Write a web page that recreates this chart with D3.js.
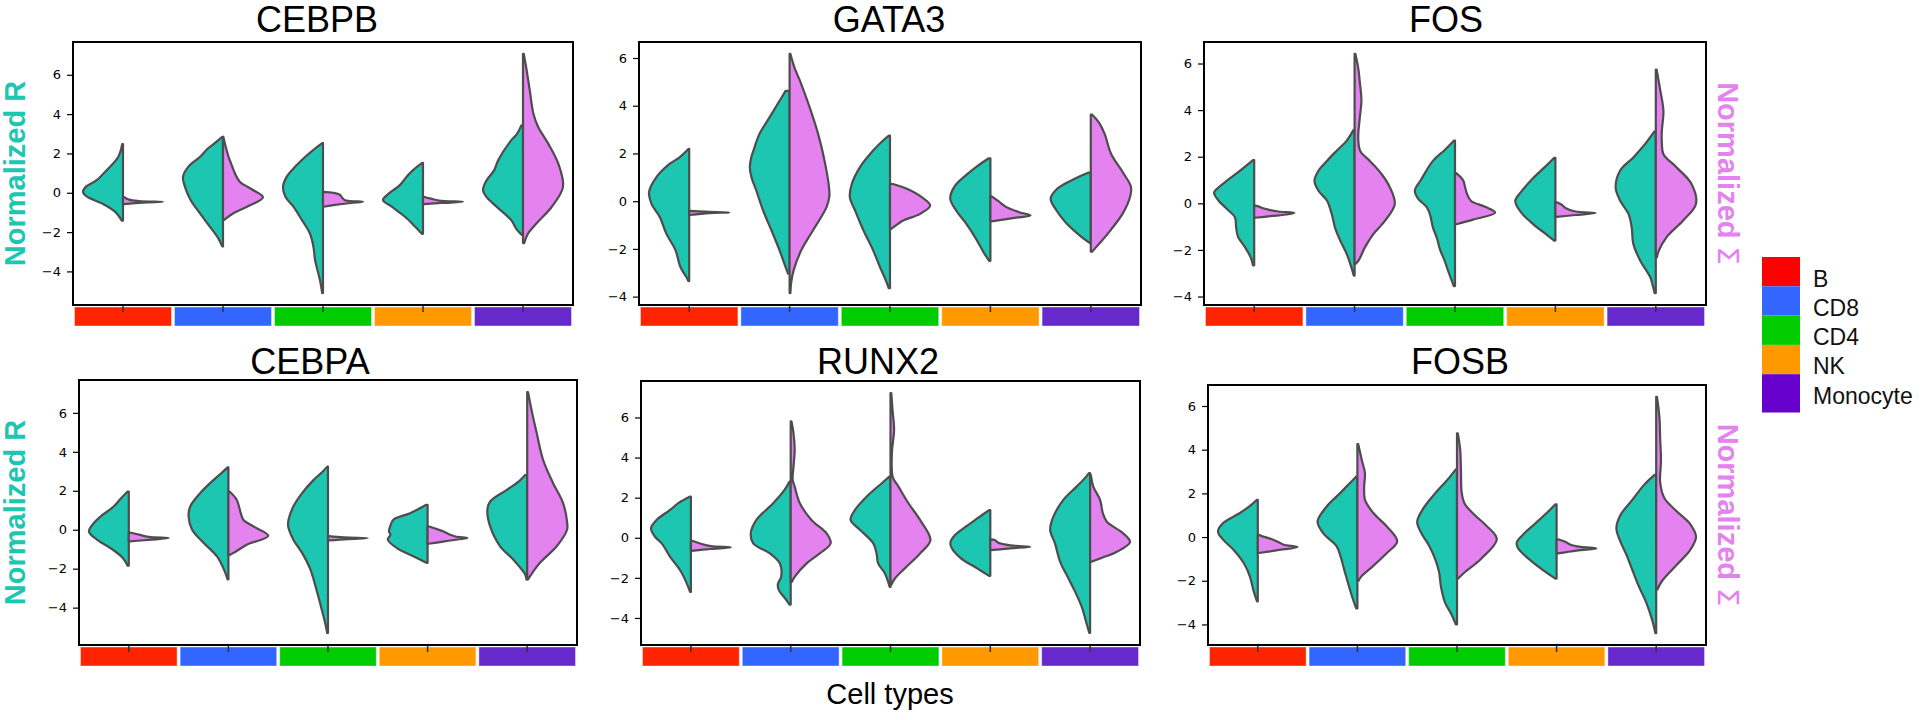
<!DOCTYPE html>
<html>
<head>
<meta charset="utf-8">
<script src="https://cdn.jsdelivr.net/npm/d3@7"></script>
<style>
  body { margin: 0; background: #fff; }
  svg { display: block; }
</style>
</head>
<body>
<div id="chart"></div>
<script>
// categories and labels
const cellTypes = ["B", "CD8", "CD4", "NK", "Monocyte"];
const genes = ["CEBPB", "GATA3", "FOS", "CEBPA", "RUNX2", "FOSB"];
const yTicks = [-4, -2, 0, 2, 4, 6];

// violin profiles, one per cell type: [value, relative density]
// teal = left half (Normalized R), pink = right half (Normalized Σ)
const tealCEBPB = [
  [[-1.42,0.03],[-0.96,0.2],[-0.54,0.53],[-0.2,0.9],[0.05,1.0],[0.3,0.93],[0.64,0.66],[1.15,0.41],[1.82,0.12],[2.47,0.02]],
  [[-2.73,0.02],[-2.31,0.12],[-1.72,0.33],[-1.04,0.58],[-0.37,0.81],[0.3,0.95],[0.81,1.0],[1.32,0.87],[1.82,0.58],[2.25,0.38],[2.5,0.22],[2.84,0.02]],
  [[-5.1,0.02],[-4.5,0.07],[-4.08,0.12],[-3.41,0.2],[-2.73,0.24],[-2.06,0.33],[-1.38,0.53],[-0.71,0.74],[-0.2,0.94],[0.3,1.0],[0.81,0.91],[1.32,0.7],[1.82,0.45],[2.25,0.2],[2.53,0.02]],
  [[-2.09,0.03],[-1.72,0.2],[-1.22,0.45],[-0.71,0.78],[-0.37,1.0],[-0.12,0.9],[0.39,0.58],[0.81,0.41],[1.15,0.25],[1.52,0.02]],
  [[-2.14,0.03],[-1.89,0.15],[-1.38,0.3],[-0.71,0.66],[-0.2,0.92],[0.14,1.0],[0.6,0.92],[1.15,0.72],[1.66,0.62],[2.58,0.33],[3.0,0.15],[3.43,0.04]]
];
const pinkCEBPB = [
  [[-0.58,0.02],[-0.5,0.5],[-0.46,1.0],[-0.42,0.4],[-0.35,0.15],[-0.22,0.03]],
  [[-1.38,0.03],[-1.04,0.26],[-0.71,0.6],[-0.23,1.0],[0.14,0.75],[0.56,0.42],[0.98,0.3],[1.5,0.2],[1.82,0.14],[2.4,0.06],[2.84,0.01]],
  [[-0.71,0.02],[-0.62,0.3],[-0.52,0.7],[-0.46,1.0],[-0.38,0.55],[-0.25,0.48],[-0.1,0.42],[0.0,0.25],[0.05,0.02]],
  [[-0.58,0.02],[-0.52,0.45],[-0.46,1.0],[-0.4,0.4],[-0.3,0.2],[-0.2,0.02]],
  [[-2.56,0.03],[-2.06,0.13],[-1.55,0.34],[-0.71,0.72],[0.3,1.0],[1.49,0.88],[2.5,0.63],[3.34,0.38],[4.02,0.26],[5.2,0.17],[6.38,0.08],[7.06,0.02]]
];
const tealGATA3 = [
  [[-3.35,0.02],[-3.18,0.07],[-2.76,0.22],[-2.06,0.34],[-1.36,0.57],[-0.67,0.73],[-0.11,0.94],[0.38,1.0],[1.0,0.82],[1.56,0.49],[1.84,0.24],[2.19,0.02]],
  [[-3.04,0.04],[-2.76,0.1],[-2.06,0.25],[-1.23,0.45],[-0.39,0.66],[0.45,0.83],[1.0,0.95],[1.42,0.99],[1.8,0.96],[2.12,0.9],[2.82,0.75],[3.51,0.5],[4.21,0.25],[4.62,0.1]],
  [[-3.65,0.03],[-3.25,0.12],[-2.76,0.25],[-2.06,0.42],[-1.23,0.66],[-0.39,0.87],[0.17,1.0],[0.73,0.95],[1.42,0.75],[2.12,0.42],[2.5,0.2],[2.75,0.03]],
  [[-2.5,0.03],[-2.2,0.15],[-1.6,0.35],[-0.9,0.62],[-0.4,0.85],[0.1,1.0],[0.6,0.9],[1.1,0.6],[1.5,0.3],[1.8,0.04]],
  [[-1.75,0.03],[-1.4,0.3],[-0.9,0.62],[-0.4,0.85],[0.1,1.0],[0.5,0.85],[0.9,0.45],[1.2,0.05]]
];
const pinkGATA3 = [
  [[-0.58,0.02],[-0.5,0.5],[-0.47,1.0],[-0.44,0.4],[-0.41,0.02]],
  [[-3.85,0.02],[-3.4,0.04],[-2.9,0.1],[-2.06,0.29],[-1.23,0.58],[-0.25,0.92],[0.2,0.99],[0.6,0.98],[1.7,0.87],[2.82,0.71],[3.93,0.5],[4.91,0.29],[5.61,0.12],[6.17,0.02]],
  [[-1.16,0.03],[-0.95,0.2],[-0.81,0.33],[-0.53,0.75],[-0.18,1.0],[0.17,0.79],[0.52,0.42],[0.68,0.15],[0.73,0.03]],
  [[-0.85,0.03],[-0.7,0.6],[-0.6,1.0],[-0.45,0.7],[-0.25,0.4],[0.0,0.2],[0.2,0.03]],
  [[-2.12,0.03],[-1.8,0.2],[-1.2,0.5],[-0.5,0.8],[0.2,0.98],[0.6,1.0],[1.2,0.8],[2.0,0.5],[2.8,0.35],[3.3,0.2],[3.63,0.03]]
];
const tealFOS = [
  [[-2.66,0.03],[-2.31,0.09],[-1.88,0.23],[-1.45,0.4],[-1.03,0.45],[-0.6,0.48],[-0.24,0.68],[0.12,0.89],[0.47,1.0],[0.68,0.89],[0.97,0.68],[1.4,0.35],[1.85,0.03]],
  [[-3.1,0.02],[-2.59,0.11],[-2.16,0.2],[-1.59,0.36],[-1.03,0.49],[-0.45,0.57],[0.12,0.69],[0.54,0.9],[0.97,1.0],[1.4,0.9],[1.82,0.69],[2.25,0.45],[2.68,0.2],[3.14,0.03]],
  [[-3.55,0.03],[-3.0,0.15],[-2.5,0.25],[-2.0,0.37],[-1.5,0.45],[-1.03,0.55],[-0.5,0.62],[-0.17,0.7],[0.2,0.92],[0.54,1.0],[1.0,0.85],[1.82,0.55],[2.3,0.25],[2.69,0.03]],
  [[-1.6,0.03],[-1.3,0.25],[-0.9,0.55],[-0.4,0.85],[0.1,1.0],[0.5,0.85],[1.0,0.6],[1.5,0.3],[1.95,0.03]],
  [[-3.85,0.03],[-3.5,0.08],[-3.16,0.14],[-2.45,0.39],[-1.74,0.56],[-1.03,0.6],[-0.45,0.68],[0.12,0.89],[0.68,1.0],[1.4,0.89],[1.97,0.56],[2.54,0.27],[3.08,0.04]]
];
const pinkFOS = [
  [[-0.62,0.02],[-0.55,0.4],[-0.47,0.85],[-0.41,1.0],[-0.35,0.6],[-0.27,0.35],[-0.2,0.2],[-0.12,0.08],[-0.1,0.02]],
  [[-2.59,0.03],[-2.45,0.1],[-1.88,0.26],[-1.31,0.47],[-0.74,0.76],[-0.03,1.0],[0.68,0.88],[1.26,0.67],[1.82,0.38],[2.25,0.14],[2.82,0.09],[3.68,0.13],[4.39,0.17],[5.2,0.13],[5.81,0.09],[6.41,0.02]],
  [[-0.9,0.03],[-0.7,0.45],[-0.4,1.0],[-0.15,0.75],[0.1,0.4],[0.4,0.3],[0.7,0.25],[1.0,0.2],[1.3,0.03]],
  [[-0.58,0.03],[-0.5,0.5],[-0.42,1.0],[-0.35,0.5],[-0.2,0.25],[-0.05,0.15],[0.05,0.03]],
  [[-2.31,0.03],[-2.09,0.06],[-1.45,0.27],[-0.74,0.68],[-0.03,1.0],[0.83,0.89],[1.54,0.52],[2.11,0.19],[2.6,0.15],[3.1,0.15],[3.96,0.19],[4.96,0.1],[5.74,0.02]]
];
const tealCEBPA = [
  [[-1.85,0.03],[-1.45,0.15],[-0.94,0.46],[-0.51,0.8],[-0.09,1.0],[0.34,0.88],[0.68,0.71],[1.19,0.38],[1.6,0.2],[1.96,0.03]],
  [[-2.55,0.02],[-2.1,0.1],[-1.36,0.29],[-0.68,0.62],[0,0.91],[0.68,1.0],[1.19,0.96],[1.88,0.71],[2.56,0.37],[2.9,0.18],[3.2,0.02]],
  [[-5.3,0.02],[-4.8,0.07],[-4.0,0.17],[-3.0,0.3],[-2.0,0.45],[-1.19,0.65],[-0.51,0.87],[0.17,1.0],[0.51,0.99],[1.19,0.87],[1.88,0.65],[2.56,0.36],[2.95,0.15],[3.24,0.02]],
  [[-1.7,0.03],[-1.36,0.36],[-0.94,0.77],[-0.51,1.0],[-0.25,0.93],[-0.1,0.97],[0.17,0.94],[0.51,0.86],[0.85,0.44],[1.28,0.03]],
  [[-2.55,0.02],[-2.3,0.05],[-1.53,0.35],[-0.85,0.68],[0.17,0.93],[1.02,1.0],[1.45,0.93],[2.05,0.51],[2.5,0.2],[2.81,0.05]]
];
const pinkCEBPA = [
  [[-0.6,0.02],[-0.52,0.5],[-0.43,1.0],[-0.37,0.5],[-0.25,0.25],[-0.14,0.03]],
  [[-1.3,0.03],[-1.19,0.13],[-0.77,0.46],[-0.31,1.0],[0.17,0.63],[0.5,0.38],[0.85,0.31],[1.53,0.21],[1.96,0.03]],
  [[-0.55,0.02],[-0.48,0.5],[-0.43,1.0],[-0.39,0.4],[-0.33,0.02]],
  [[-0.72,0.03],[-0.62,0.35],[-0.5,0.75],[-0.43,1.0],[-0.35,0.7],[-0.26,0.57],[-0.09,0.4],[0.09,0.15],[0.17,0.03]],
  [[-2.55,0.02],[-2.39,0.07],[-1.7,0.32],[-0.85,0.74],[0,1.0],[0.42,1.0],[1.37,0.9],[2.39,0.65],[3.58,0.4],[4.95,0.24],[6.14,0.11],[7.07,0.02]]
];
const tealRUNX2 = [
  [[-2.7,0.02],[-2.2,0.12],[-1.62,0.27],[-0.95,0.52],[-0.28,0.73],[0.05,0.9],[0.47,1.0],[0.89,0.86],[1.39,0.52],[1.75,0.3],[2.05,0.03]],
  [[-3.33,0.03],[-3.0,0.15],[-2.6,0.3],[-2.3,0.32],[-1.95,0.24],[-1.28,0.27],[-0.78,0.52],[-0.28,0.94],[0.22,1.0],[0.89,0.86],[1.72,0.44],[2.4,0.15],[2.8,0.03]],
  [[-2.45,0.02],[-1.78,0.14],[-1.28,0.31],[-0.78,0.35],[-0.28,0.43],[0.39,0.76],[0.89,1.0],[1.39,0.89],[2.05,0.6],[2.72,0.22],[3.05,0.03]],
  [[-1.9,0.03],[-1.5,0.35],[-1.0,0.75],[-0.5,0.97],[-0.25,1.0],[0.1,0.9],[0.5,0.65],[1.0,0.3],[1.38,0.03]],
  [[-4.75,0.02],[-4.2,0.1],[-3.5,0.2],[-2.8,0.35],[-2.0,0.55],[-1.2,0.75],[-0.28,0.88],[0.39,1.0],[1.05,0.92],[1.89,0.67],[2.55,0.34],[3.0,0.12],[3.22,0.03]]
];
const pinkRUNX2 = [
  [[-0.65,0.02],[-0.56,0.5],[-0.48,1.0],[-0.42,0.5],[-0.3,0.25],[-0.15,0.03]],
  [[-2.2,0.03],[-1.95,0.1],[-1.28,0.4],[-0.78,0.73],[-0.28,1.0],[0.22,0.9],[0.89,0.52],[1.72,0.23],[2.55,0.1],[2.89,0.05],[3.55,0.07],[4.39,0.1],[5.22,0.07],[5.8,0.02]],
  [[-2.35,0.02],[-2.03,0.11],[-1.45,0.4],[-0.78,0.74],[-0.12,1.0],[0.89,0.74],[1.72,0.45],[2.55,0.2],[3.0,0.06],[3.6,0.03],[4.39,0.04],[5.39,0.09],[6.39,0.05],[7.22,0.02]],
  [[-0.62,0.02],[-0.53,0.5],[-0.45,1.0],[-0.38,0.5],[-0.25,0.2],[-0.12,0.12],[-0.08,0.02]],
  [[-1.2,0.03],[-1.0,0.3],[-0.7,0.67],[-0.2,1.0],[0.22,0.83],[0.8,0.42],[1.22,0.32],[1.89,0.25],[2.55,0.08],[3.13,0.02]]
];
const tealFOSB = [
  [[-2.95,0.02],[-2.5,0.1],[-1.8,0.2],[-1.2,0.35],[-0.6,0.6],[-0.12,0.87],[0.26,1.0],[0.64,0.87],[1.1,0.45],[1.45,0.18],[1.7,0.03]],
  [[-3.27,0.03],[-2.8,0.12],[-2.2,0.22],[-1.5,0.33],[-0.9,0.42],[-0.43,0.52],[0.18,0.86],[0.71,1.0],[1.4,0.77],[2.0,0.44],[2.45,0.2],[2.77,0.03]],
  [[-4.0,0.03],[-3.5,0.15],[-3.0,0.3],[-2.3,0.4],[-1.6,0.45],[-1.0,0.55],[-0.4,0.7],[0.2,0.9],[0.7,1.0],[1.3,0.85],[2.0,0.55],[2.6,0.25],[3.1,0.03]],
  [[-1.9,0.03],[-1.5,0.35],[-1.0,0.7],[-0.5,0.97],[-0.25,1.0],[0.1,0.85],[0.6,0.55],[1.1,0.25],[1.5,0.03]],
  [[-4.4,0.02],[-3.8,0.1],[-3.0,0.25],[-2.2,0.45],[-1.5,0.6],[-0.8,0.75],[-0.2,0.9],[0.4,1.0],[1.0,0.9],[1.7,0.6],[2.4,0.3],[2.85,0.04]]
];
const pinkFOSB = [
  [[-0.73,0.03],[-0.6,0.5],[-0.46,1.0],[-0.35,0.65],[-0.27,0.56],[-0.12,0.39],[0.03,0.12],[0.1,0.02]],
  [[-2.0,0.03],[-1.8,0.1],[-1.4,0.35],[-0.73,0.74],[-0.2,1.0],[0.48,0.74],[1.1,0.4],[1.7,0.19],[2.31,0.17],[2.92,0.19],[3.53,0.11],[4.26,0.02]],
  [[-1.9,0.03],[-1.6,0.2],[-1.0,0.6],[-0.1,1.0],[0.5,0.75],[1.0,0.45],[1.5,0.2],[2.0,0.12],[3.0,0.1],[4.0,0.08],[4.75,0.02]],
  [[-0.75,0.03],[-0.62,0.5],[-0.52,1.0],[-0.45,0.6],[-0.35,0.35],[-0.2,0.2],[-0.1,0.03]],
  [[-2.4,0.03],[-2.0,0.15],[-1.3,0.5],[-0.6,0.85],[0.0,1.0],[0.6,0.85],[1.2,0.5],[1.8,0.2],[2.5,0.1],[3.5,0.12],[4.5,0.1],[5.5,0.08],[6.42,0.02]]
];

const tealData = [tealCEBPB, tealGATA3, tealFOS, tealCEBPA, tealRUNX2, tealFOSB];
const pinkData = [pinkCEBPB, pinkGATA3, pinkFOS, pinkCEBPA, pinkRUNX2, pinkFOSB];

// colours
const teal = "#1cc6b1", pink = "#e482f0", edge = "#4d4d4d";
const barColors = ["#ff2400", "#3366ff", "#00cc00", "#ff9900", "#6629cc"];
const legendColors = ["#ff0000", "#3366ff", "#00cc00", "#ff9900", "#6600cc"];

// panel frames in pixels
const frames = [
  {x0: 73,   x1: 573,  y0: 42,  y1: 305, tx: 317},
  {x0: 639,  x1: 1141, y0: 42,  y1: 305, tx: 889},
  {x0: 1204, x1: 1706, y0: 42,  y1: 305, tx: 1446},
  {x0: 79,   x1: 577,  y0: 380, y1: 645, tx: 310},
  {x0: 641,  x1: 1140, y0: 381, y1: 645, tx: 878},
  {x0: 1208, x1: 1706, y0: 385, y1: 645, tx: 1460}
];

const svg = d3.select("#chart").append("svg")
    .attr("width", 1922)
    .attr("height", 720)
    .style("font-family", "'Liberation Sans', Arial, sans-serif");

genes.forEach(function(gene, i) {
  const f = frames[i];
  const x = d3.scaleBand().domain(cellTypes).range([f.x0, f.x1]);
  const all = tealData[i].concat(pinkData[i]).flat().map(d => d[0]);
  const lo = d3.min(all), hi = d3.max(all), pad = (hi - lo) * 0.05;
  const y = d3.scaleLinear().domain([lo - pad, hi + pad]).range([f.y1, f.y0]);
  const w = d3.scaleLinear().domain([0, 1]).range([0, x.bandwidth() * 0.4]);

  const g = svg.append("g");

  // title
  g.append("text")
      .attr("x", f.tx)
      .attr("y", i < 3 ? 32 : 374)
      .attr("text-anchor", "middle")
      .style("font-size", "36px")
      .text(gene);

  // split violins
  cellTypes.forEach(function(c, j) {
    const cx = x(c) + x.bandwidth() / 2;
    const half = function(sign) {
      return d3.area()
          .curve(d3.curveCatmullRom.alpha(0.5))
          .y(d => y(d[0]))
          .x0(cx)
          .x1(d => cx + sign * w(d[1]));
    };
    g.append("path")
        .attr("d", half(-1)(tealData[i][j]))
        .attr("fill", teal)
        .attr("stroke", edge)
        .attr("stroke-width", 2.2)
        .attr("stroke-linejoin", "round");
    g.append("path")
        .attr("d", half(1)(pinkData[i][j]))
        .attr("fill", pink)
        .attr("stroke", edge)
        .attr("stroke-width", 2.2)
        .attr("stroke-linejoin", "round");
  });

  // coloured cell-type strip under each panel
  g.selectAll(".strip")
    .data(cellTypes)
    .enter().append("rect")
      .attr("x", d => x(d) + 1.5)
      .attr("y", f.y1 + 2)
      .attr("width", x.bandwidth() - 3)
      .attr("height", 19)
      .attr("fill", (d, k) => barColors[k])
      .attr("stroke", "#ffffff")
      .attr("stroke-opacity", 0.4)
      .attr("stroke-width", 1);

  // y axis
  const [dmin, dmax] = y.domain();
  const yAxis = g.append("g")
      .attr("transform", "translate(" + f.x0 + ",0)")
      .call(d3.axisLeft(y)
        .tickValues(yTicks.filter(t => t >= dmin && t <= dmax))
        .tickSize(6)
        .tickPadding(6));
  yAxis.select(".domain").remove();
  yAxis.selectAll("text")
      .style("font-family", "'DejaVu Sans', sans-serif")
      .style("font-size", "13px")
      .attr("fill", "#000");
  yAxis.selectAll("line").attr("stroke", "#000").attr("stroke-width", 1.2);

  // x axis ticks only
  const xAxis = g.append("g")
      .attr("transform", "translate(0," + f.y1 + ")")
      .call(d3.axisBottom(x).tickSize(7).tickFormat(""));
  xAxis.select(".domain").remove();
  xAxis.selectAll("line").attr("stroke", "#333").attr("stroke-width", 1.5);

  // frame
  g.append("rect")
      .attr("x", f.x0)
      .attr("y", f.y0)
      .attr("width", f.x1 - f.x0)
      .attr("height", f.y1 - f.y0)
      .attr("fill", "none")
      .attr("stroke", "#000")
      .attr("stroke-width", 2);

  // side labels
  const yc = (f.y0 + f.y1) / 2;
  if (i % 3 === 0) {
    g.append("text")
        .attr("transform", "translate(25," + yc + ") rotate(-90)")
        .attr("text-anchor", "middle")
        .attr("fill", teal)
        .style("font-size", "29px")
        .style("font-weight", "bold")
        .text("Normalized R");
  }
  if (i % 3 === 2) {
    const t = g.append("text")
        .attr("transform", "translate(1718," + yc + ") rotate(90)")
        .attr("text-anchor", "middle")
        .attr("fill", pink)
        .style("font-size", "29px")
        .style("font-weight", "bold");
    t.append("tspan").text("Normalized ");
    t.append("tspan").style("font-weight", "normal")
        .style("font-family", "'DejaVu Sans', sans-serif").text("Σ");
  }
});

// x label
svg.append("text")
    .attr("x", 890)
    .attr("y", 704)
    .attr("text-anchor", "middle")
    .style("font-size", "29px")
    .text("Cell types");

// legend
const legend = svg.append("g").attr("transform", "translate(1762,257)");
const lh = 29.3;
legend.selectAll("rect")
  .data(cellTypes)
  .enter().append("rect")
    .attr("x", 0)
    .attr("y", (d, k) => k * lh)
    .attr("width", 38)
    .attr("height", (d, k) => k === cellTypes.length - 1 ? lh + 9 : lh)
    .attr("fill", (d, k) => legendColors[k]);
legend.selectAll("text")
  .data(cellTypes)
  .enter().append("text")
    .attr("x", 51)
    .attr("y", (d, k) => 29.5 + k * lh)
    .style("font-size", "23px")
    .attr("fill", "#111")
    .text(d => d);
</script>
</body>
</html>
